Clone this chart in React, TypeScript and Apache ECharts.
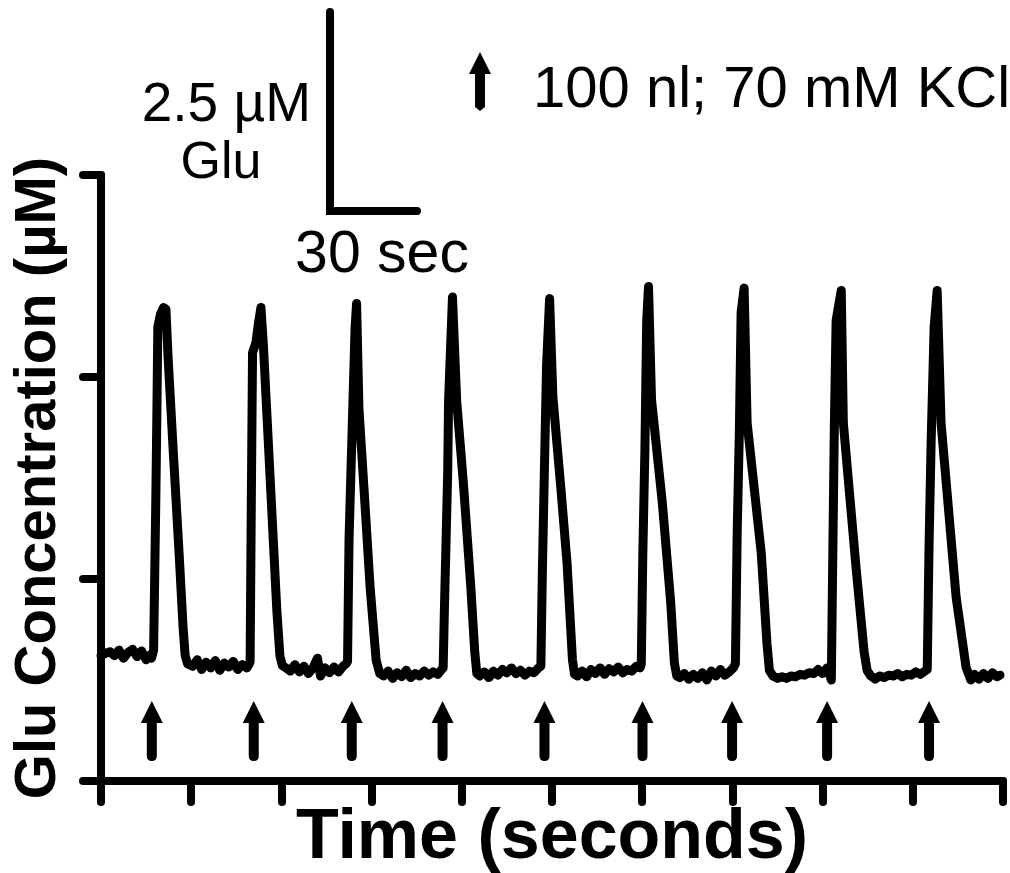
import React, { useEffect, useRef } from "react";
import * as echarts from "echarts";

// Time (s) and glutamate concentration (µM)
const traceTime: number[] = [
  0, 1.5, 3, 4.5, 6, 7.5, 9, 10.5, 12, 13.5, 15, 16.3,
  16.8, 17.5, 18.2, 18.6, 18.9, 19.8, 20.8, 21.6, 22.3, 24, 26, 27.3, 28, 28.8,
  30.5, 32, 33.5, 35, 36.5, 38, 39.5, 41, 42.5, 44, 45.5, 47, 48.5, 49.3,
  49.6, 50.0, 50.4, 51.5, 52.5, 53.2, 54.0, 55.5, 57, 58.5, 59.5, 60.3,
  61.5, 63, 64.5, 66, 67.5, 69, 70.5, 72, 73, 74.5, 76, 77.5, 79, 80.5, 81.5,
  82.0, 82.5, 83.8, 84.5, 85.0, 85.8, 87.5, 89.5, 91.5, 92.7,
  94, 95.5, 97, 98.5, 100, 101.5, 103, 104.5, 106, 107.5, 109, 110.5, 112, 113.3,
  113.8, 114.2, 115.3, 115.6, 116.9, 118.3, 120.5, 123, 124.3, 125,
  126, 127.5, 129, 130.5, 132, 133.5, 135, 136.5, 138, 139.5, 141, 142.5, 144, 145.5,
  146.3, 146.8, 147.5, 148.2, 149.2, 150.3, 153, 155, 156.8, 157.5,
  158.5, 160, 161.5, 163, 164.5, 166, 167.5, 169, 170.5, 172, 173.5, 175, 176.5, 178, 179.3,
  179.7, 180.2, 180.9, 181.5, 182.1, 183.1, 186.7, 189.5, 190.7, 191.5,
  192.5, 194, 195.5, 197, 198.5, 200, 201.5, 203, 204.5, 206, 207.5, 209, 210.3,
  211.0, 211.6, 212.3, 212.9, 213.9, 214.9, 219.6, 221.5, 222.3,
  223.5, 225, 226.5, 228, 229.5, 231, 232.5, 234, 235.5, 237, 238.5, 240, 241.5, 242.5,
  242.9, 243.2, 243.9, 244.5, 246.2, 246.9, 251.2, 253.8, 254.8,
  256, 257.5, 259, 260.5, 262, 263.5, 265, 266.5, 268, 269.5, 271, 272.5, 274,
  274.8, 275.4, 276.1, 277.1, 278.1, 279.4, 284.4, 287.7, 289.3,
  290.5, 292, 293.5, 295, 296.5, 298, 299,
];

const glu: number[] = [
  1.55, 1.58, 1.60, 1.55, 1.62, 1.52, 1.59, 1.63, 1.54, 1.61, 1.50, 1.56,
  1.52, 1.62, 3.4, 4.6, 5.62, 5.78, 5.86, 5.84, 5.25, 4.1, 2.8, 1.9, 1.55, 1.45,
  1.42, 1.50, 1.38, 1.47, 1.40, 1.49, 1.37, 1.46, 1.41, 1.48, 1.38, 1.44, 1.40, 1.45,
  1.48, 3.5, 5.3, 5.42, 5.7, 5.86, 5.4, 4.3, 3.2, 2.1, 1.55, 1.43,
  1.40, 1.36, 1.44, 1.35, 1.42, 1.33, 1.40, 1.52, 1.30, 1.40, 1.34, 1.41, 1.35, 1.42, 1.45,
  1.48, 3.0, 4.7, 5.6, 5.91, 4.6, 3.6, 2.4, 1.5, 1.33,
  1.30, 1.36, 1.27, 1.34, 1.29, 1.37, 1.28, 1.33, 1.30, 1.36, 1.31, 1.35, 1.32, 1.38,
  1.40, 2.1, 3.8, 4.7, 5.99, 4.7, 3.7, 2.4, 1.6, 1.33,
  1.30, 1.35, 1.28, 1.36, 1.31, 1.38, 1.34, 1.40, 1.33, 1.37, 1.31, 1.36, 1.34, 1.40,
  1.42, 2.6, 3.9, 5.15, 5.97, 4.75, 3.6, 2.7, 1.5, 1.32,
  1.30, 1.36, 1.29, 1.38, 1.33, 1.40, 1.32, 1.39, 1.35, 1.41, 1.34, 1.38, 1.36, 1.42, 1.40,
  1.45, 2.8, 4.1, 5.7, 6.12, 4.72, 3.44, 2.2, 1.46, 1.30,
  1.28, 1.33, 1.26, 1.32, 1.27, 1.34, 1.25, 1.36, 1.30, 1.38, 1.31, 1.35, 1.40,
  1.45, 3.1, 4.3, 5.8, 6.1, 4.43, 2.82, 1.7, 1.37,
  1.30, 1.27, 1.29, 1.27, 1.30, 1.29, 1.32, 1.31, 1.34, 1.33, 1.38, 1.33, 1.40, 1.30,
  1.25, 2.2, 4.38, 5.7, 6.07, 4.43, 2.61, 1.6, 1.37,
  1.30, 1.26, 1.30, 1.28, 1.31, 1.30, 1.33, 1.29, 1.32, 1.31, 1.35, 1.32, 1.36,
  1.38, 2.9, 4.2, 5.62, 6.07, 4.43, 2.28, 1.41, 1.25,
  1.32, 1.26, 1.33, 1.27, 1.34, 1.29, 1.31,
];

// KCl injection times (s), marked by arrows under the trace
const injectionTimes: number[] = [16.9, 50.8, 83.4, 113.6, 147.5, 180.1, 209.9, 241.5, 275.4];
const arrowLevel = 0.62;

const xTicks = { min: 0, max: 300, interval: 30 };
const yTicks = { min: 0, max: 7.5, interval: 2.5 };

const ARROW =
  "path://M11 0 L22 22 L16 22 L16 55 Q16 60 11 60 Q6 60 6 55 L6 22 L0 22 Z";

const FONT = "'Liberation Sans', Arial, sans-serif";

export default function App() {
  const ref = useRef<HTMLDivElement>(null);
  useEffect(() => {
    if (!ref.current) return;
    const chart = echarts.init(ref.current, undefined, { renderer: "svg" });
    const axisLine = { show: true, lineStyle: { color: "#000", width: 8, cap: "round" } };
    chart.setOption({
      animation: false,
      backgroundColor: "#fff",
      grid: { left: 101, right: 7, top: 175, bottom: 92, containLabel: false, outerBoundsMode: "none" },
      xAxis: {
        type: "value",
        ...xTicks,
        name: "Time (seconds)",
        nameLocation: "middle",
        nameGap: 18,
        nameTextStyle: { fontFamily: FONT, fontWeight: "bold", fontSize: 70, color: "#000", verticalAlign: "top" },
        axisLine,
        axisTick: { show: true, length: 21, lineStyle: { color: "#000", width: 8, cap: "round" } },
        axisLabel: { show: false },
        splitLine: { show: false },
      },
      yAxis: {
        type: "value",
        ...yTicks,
        name: "Glu Concentration (µM)",
        nameLocation: "middle",
        nameGap: 38,
        nameTextStyle: { fontFamily: FONT, fontWeight: "bold", fontSize: 58, color: "#000" },
        axisLine,
        axisTick: { show: true, length: 18, lineStyle: { color: "#000", width: 8, cap: "round" } },
        axisLabel: { show: false },
        splitLine: { show: false },
      },
      series: [
        {
          type: "line",
          data: traceTime.map((t, i) => [t, glu[i]]),
          showSymbol: false,
          symbol: "none",
          lineStyle: { color: "#000", width: 9, join: "round", cap: "round" },
          z: 3,
        },
        {
          type: "scatter",
          data: injectionTimes.map((t) => [t, arrowLevel]),
          symbol: ARROW,
          symbolSize: [22, 60],
          itemStyle: { color: "#000", opacity: 1 },
          z: 4,
        },
      ],
      graphic: [
        {
          type: "polyline",
          shape: { points: [[330, 12], [330, 211], [417, 211]] },
          style: { stroke: "#000", lineWidth: 8, fill: null, lineCap: "round", lineJoin: "miter" },
        },
        {
          type: "polygon",
          shape: {
            points: [[469, 74], [480, 52], [491, 74], [485, 74], [485, 107], [480, 111], [475, 107], [475, 74]],
          },
          style: { fill: "#000" },
        },
        {
          type: "text",
          x: 311, y: 102,
          style: { text: "2.5 µM", fontFamily: FONT, fontSize: 55, fill: "#000", align: "right", verticalAlign: "middle" },
        },
        {
          type: "text",
          x: 221, y: 160,
          style: { text: "Glu", fontFamily: FONT, fontSize: 52, fill: "#000", align: "center", verticalAlign: "middle" },
        },
        {
          type: "text",
          x: 382, y: 252,
          style: { text: "30 sec", fontFamily: FONT, fontSize: 59, fill: "#000", align: "center", verticalAlign: "middle" },
        },
        {
          type: "text",
          x: 533, y: 86,
          style: { text: "100 nl; 70 mM KCl", fontFamily: FONT, fontSize: 58, fill: "#000", align: "left", verticalAlign: "middle" },
        },
      ],
    });
    return () => chart.dispose();
  }, []);
  return (
    <div
      ref={ref}
      style={{ position: "absolute", left: 0, top: 0, width: 1010, height: 873, background: "#fff" }}
    />
  );
}
